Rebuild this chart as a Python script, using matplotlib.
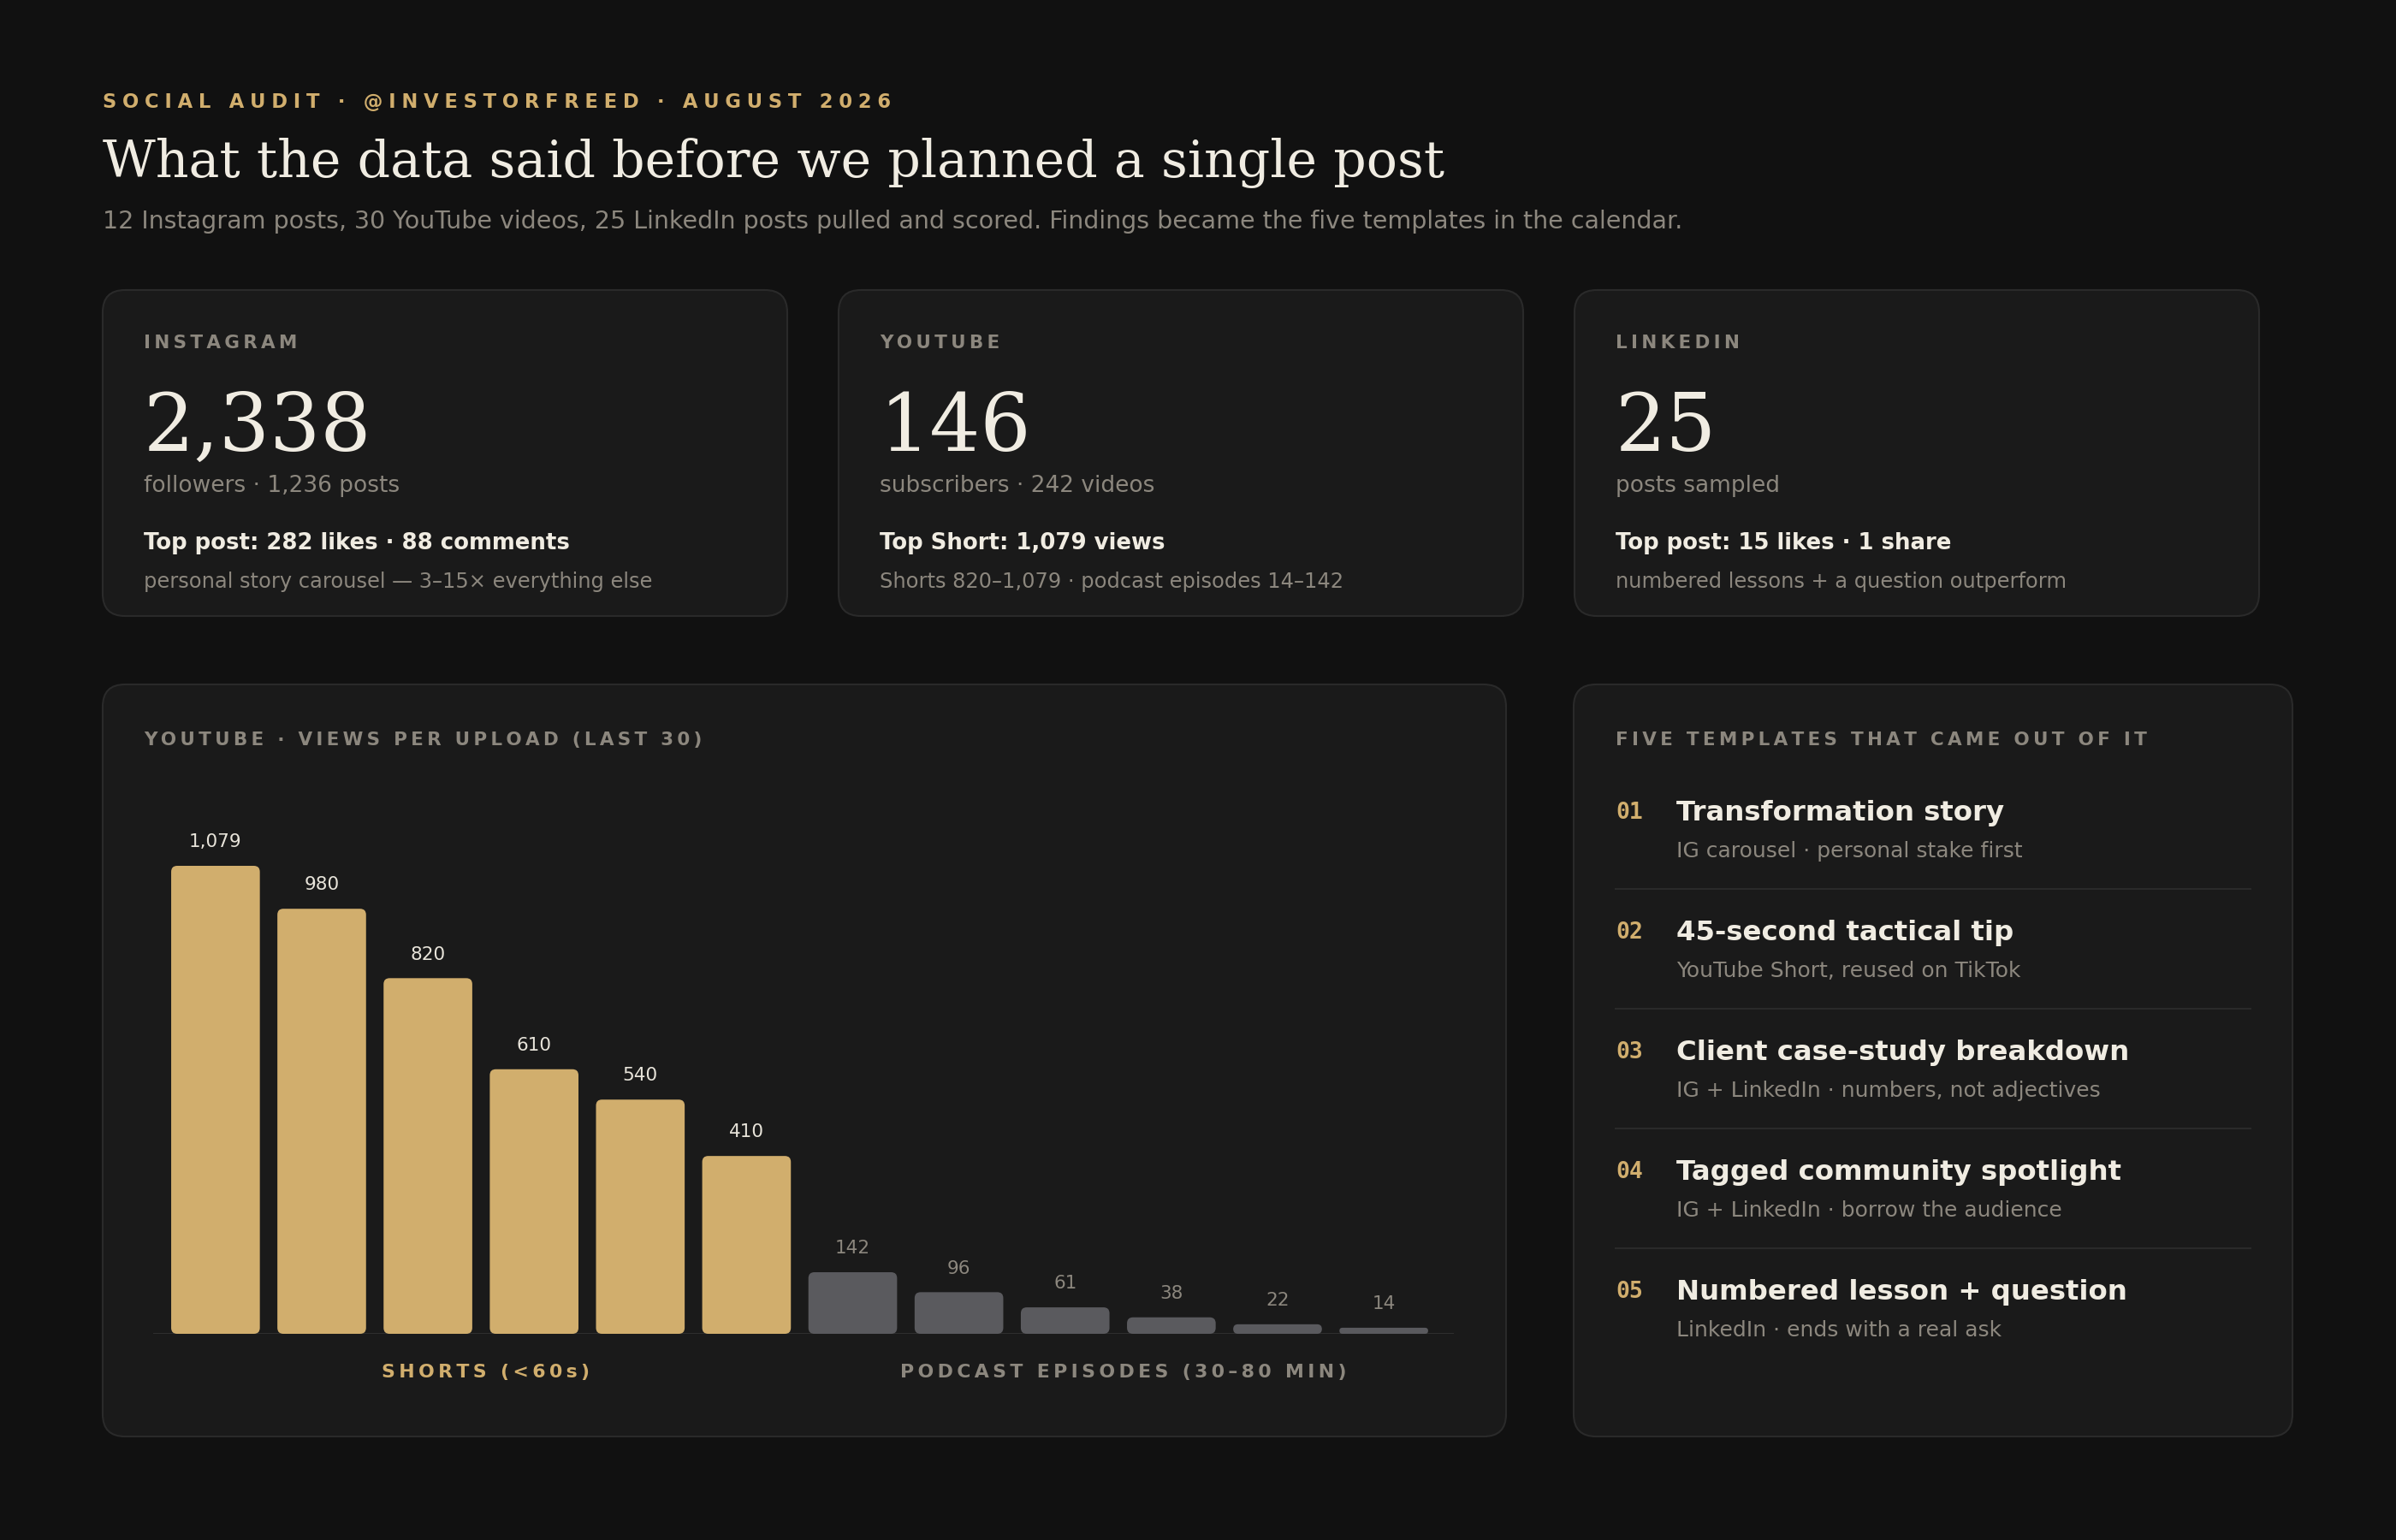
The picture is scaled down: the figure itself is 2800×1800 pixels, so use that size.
import numpy as np
import matplotlib.pyplot as plt
from matplotlib.patches import FancyBboxPatch

# --- data -------------------------------------------------------------
platforms = ['INSTAGRAM', 'YOUTUBE', 'LINKEDIN']
headline_values = [2338, 146, 25]
headline_units = ['followers · 1,236 posts', 'subscribers · 242 videos', 'posts sampled']
top_lines = ['Top post: 282 likes · 88 comments',
             'Top Short: 1,079 views',
             'Top post: 15 likes · 1 share']
notes = ['personal story carousel — 3–15× everything else',
         'Shorts 820–1,079 · podcast episodes 14–142',
         'numbered lessons + a question outperform']

upload_views = [1079, 980, 820, 610, 540, 410, 142, 96, 61, 38, 22, 14]
upload_kind = ['short'] * 6 + ['podcast'] * 6
group_names = {'short': 'SHORTS (<60s)', 'podcast': 'PODCAST EPISODES (30–80 MIN)'}

template_titles = ['Transformation story', '45-second tactical tip',
                   'Client case-study breakdown', 'Tagged community spotlight',
                   'Numbered lesson + question']
template_notes = ['IG carousel · personal stake first',
                  'YouTube Short, reused on TikTok',
                  'IG + LinkedIn · numbers, not adjectives',
                  'IG + LinkedIn · borrow the audience',
                  'LinkedIn · ends with a real ask']

# --- style ------------------------------------------------------------
BG = '#111111'
CARD = '#1a1a1a'
EDGE = '#2a2a2a'
GOLD = '#d1ae6d'
GREY_BAR = '#5a5a5e'
WHITE = '#f0ece2'
MUTED = '#8c877e'
SERIF = 'DejaVu Serif'
SANS = 'DejaVu Sans'


def track(s, gap='\u2009'):
    """Fake CSS letter-spacing with thin/hair spaces."""
    return gap.join(s)


def card(ax, x, y, w, h):
    ax.add_patch(FancyBboxPatch((x, y), w, h, boxstyle='round,pad=0,rounding_size=26',
                                facecolor=CARD, edgecolor=EDGE, linewidth=1.5, zorder=1))


fig = plt.figure(figsize=(28, 18), dpi=100, facecolor=BG)
bg = fig.add_axes([0, 0, 1, 1])
bg.set_xlim(0, 2800)
bg.set_ylim(1800, 0)
bg.axis('off')
bg.set_facecolor(BG)

# header
bg.text(120, 120, track('SOCIAL AUDIT · @INVESTORFREED · AUGUST 2026', '\u2009\u200a'),
        color=GOLD, fontsize=16.3, fontweight='bold', family=SANS, va='center')
bg.text(120, 190, 'What the data said before we planned a single post', color=WHITE,
        fontsize=43.3, family=SERIF, va='center')
bg.text(120, 259, '12 Instagram posts, 30 YouTube videos, 25 LinkedIn posts pulled and scored. '
        'Findings became the five templates in the calendar.', color=MUTED,
        fontsize=20.5, family=SANS, va='center')

# platform cards
for i, name in enumerate(platforms):
    x0 = 120 + i * 860
    card(bg, x0, 339, 800, 381)
    tx = x0 + 48
    bg.text(tx, 401, track(name), color=MUTED, fontsize=15.5, fontweight='bold', va='center')
    bg.text(tx, 527, f'{headline_values[i]:,}', color=WHITE, fontsize=67, family=SERIF,
            va='baseline')
    bg.text(tx, 568, headline_units[i], color=MUTED, fontsize=19, va='center')
    bg.text(tx, 635, top_lines[i], color=WHITE, fontsize=18.7, fontweight='bold', va='center')
    bg.text(tx, 680, notes[i], color=MUTED, fontsize=17.4, va='center')

# chart panel
card(bg, 120, 800, 1640, 879)
bg.text(168, 865, track('YOUTUBE · VIEWS PER UPLOAD (LAST 30)'), color=MUTED,
        fontsize=15.5, fontweight='bold', va='center')

px_left, px_right, px_top, px_base = 179, 1699, 950, 1559
ax = fig.add_axes([px_left / 2800, 1 - px_base / 1800,
                   (px_right - px_left) / 2800, (px_base - px_top) / 1800])
ax.set_facecolor('none')
ax.axis('off')
x = np.arange(len(upload_views))
ax.set_xlim(-0.587, 11.66)
ymax = max(upload_views) * (px_base - px_top) / 547
ax.set_ylim(0, ymax)
ax.axhline(0, color='#2e2e2e', linewidth=1.5, zorder=1)

colors = [GOLD if k == 'short' else GREY_BAR for k in upload_kind]
bars = ax.bar(x, upload_views, width=0.835, color=colors, alpha=0)

# swap plain rectangles for rounded ones
x_per_px = (11.66 + 0.587) / (px_right - px_left)
y_per_px = ymax / (px_base - px_top)
for rect, c in zip(bars, colors):
    h_px = rect.get_height() / y_per_px
    r_px = min(7, h_px / 2)
    ax.add_patch(FancyBboxPatch((rect.get_x(), 0), rect.get_width(), rect.get_height(),
                                boxstyle=f'round,pad=0,rounding_size={r_px * x_per_px}',
                                mutation_aspect=y_per_px / x_per_px,
                                facecolor=c, edgecolor='none', zorder=2))

for xi, v, k in zip(x, upload_views, upload_kind):
    ax.annotate(f'{v:,}', (xi, v), xytext=(0, 20), textcoords='offset points',
                ha='center', va='center', fontsize=15.5,
                color='#e8e4da' if k == 'short' else MUTED)

for k, c in [('short', GOLD), ('podcast', MUTED)]:
    centre = np.mean([xi for xi, kk in zip(x, upload_kind) if kk == k])
    ax.annotate(track(group_names[k]), (centre, 0), xytext=(4, -32.5),
                textcoords='offset points', ha='center', va='center',
                fontsize=15.8, fontweight='bold', color=c, annotation_clip=False)

# templates panel
card(bg, 1839, 800, 840, 879)
bg.text(1888, 865, track('FIVE TEMPLATES THAT CAME OUT OF IT'), color=MUTED,
        fontsize=15.5, fontweight='bold', va='center')
for i, (title, note) in enumerate(zip(template_titles, template_notes)):
    y = 950 + i * 140
    bg.text(1888, y, f'{i + 1:02d}', color=GOLD, fontsize=19, fontweight='bold',
            family='DejaVu Sans Mono', va='center')
    bg.text(1959, y, title, color=WHITE, fontsize=23.3, fontweight='bold', va='center')
    bg.text(1959, y + 45, note, color=MUTED, fontsize=18, va='center')
    if i < len(template_titles) - 1:
        bg.plot([1888, 2630], [y + 89, y + 89], color=EDGE, linewidth=1.5)

fig.savefig('out.png', dpi=100, facecolor=BG)
